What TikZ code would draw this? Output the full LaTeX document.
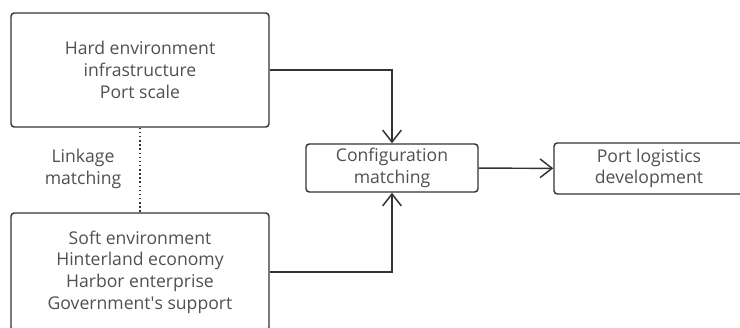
\documentclass[tikz,border=0pt]{standalone}
\usepackage{fontspec}
\setmainfont{Open Sans}
\usetikzlibrary{arrows.meta,positioning}
\definecolor{linegray}{RGB}{51,51,51}
\definecolor{textgray}{RGB}{80,80,80}

\begin{document}
\begin{tikzpicture}[x=0.75pt,y=-0.75pt,->,>={Straight Barb[length=9pt,width=14pt]},
                    semithick,
                    box/.style={draw=linegray,line width=1.1pt,rounded corners=2.5pt,
                                align=center,text=textgray,inner sep=0pt,
                                font=\fontsize{13.2}{16.3}\selectfont},
                    link/.style={draw=linegray,line width=1.1pt}]

	\useasboundingbox (0,0) rectangle (740,328);

  	\node[box,minimum width=258*0.75pt,minimum height=114*0.75pt] (hard) at (140,70)
  		{Hard environment\\infrastructure\\Port scale};
  	\node[box,minimum width=258*0.75pt,minimum height=118*0.75pt] (soft) at (140,272)
  		{Soft environment\\Hinterland economy\\Harbor enterprise\\Government\textquotesingle s support};
	\node[box,minimum width=172*0.75pt,minimum height=48*0.75pt] (conf) at (392,168)
		{Configuration\\matching};
	\node[box,minimum width=190*0.75pt,minimum height=51*0.75pt] (port) at (649,168.5)
		{Port logistics\\development};
	\node[text=textgray,align=center,font=\fontsize{13.2}{17}\selectfont] (link) at (83,169)
		{Linkage\\matching};

	\path[link] (hard.east) -| (conf.north);
	\path[link] (soft.east) -| (conf.south);
	\path[link] (conf) edge (port);
	\path[link,-,dotted,line width=1.4pt] (hard.south) edge (soft.north);

\end{tikzpicture}
\end{document}
